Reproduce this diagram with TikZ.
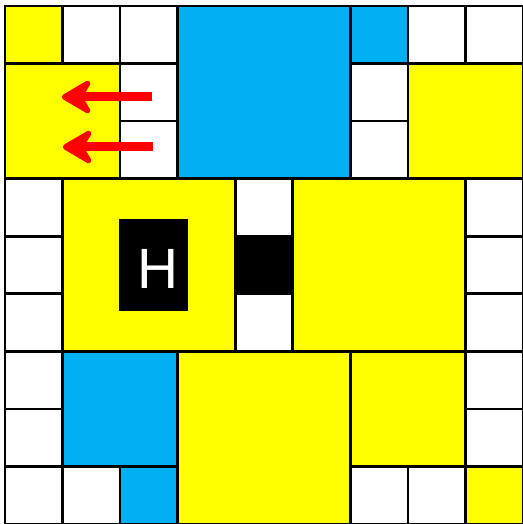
\documentclass[tikz,border=0pt]{standalone}
\usepackage{fontspec}
\setmainfont{Liberation Sans}
\definecolor{cyel}{HTML}{FFFF00}
\definecolor{cblu}{HTML}{00B0F0}
\definecolor{cred}{HTML}{FF0000}
\tikzset{
  cellbox/.style={draw=black, line width=2.6bp},
  redshaft/.style={draw=cred, line width=9bp},
  redhead/.style={draw=cred, fill=cred, line width=5.5bp, line join=round}
}
\newcommand\mysq[4]{% col,row,size,color
  \filldraw[cellbox, fill=#4] ({5+#1*57.556},{6+#2*57.556}) rectangle ++({#3*57.556},{#3*57.556});}
\begin{document}
\begin{tikzpicture}[x=1bp,y=-1bp]
\useasboundingbox (0,0) rectangle (523,524);
\fill[white] (0,0) rectangle (523,524);
\foreach \c/\r in {1/0,2/0,7/0,8/0,2/1,2/2,6/1,6/2,0/3,0/4,0/5,4/3,4/5,8/3,8/4,8/5,0/6,0/7,0/8,1/8,6/8,7/8,8/6,8/7}
  {\mysq{\c}{\r}{1}{white}}
\foreach \c/\r/\s in {0/0/1,0/1/2,7/1/2,1/3/3,5/3/3,3/6/3,6/6/2,8/8/1}
  {\mysq{\c}{\r}{\s}{cyel}}
\foreach \c/\r/\s in {3/0/3,6/0/1,1/6/2,2/8/1}
  {\mysq{\c}{\r}{\s}{cblu}}
\mysq{4}{4}{1}{black}
\fill[black] (119,219) rectangle (188,311);
\node[text=white, font=\fontsize{57}{57}\selectfont, inner sep=0pt] (hbox) at (158,269) {H};
\foreach \y/\x in {97/62, 147/63} {
  \coordinate (tail) at (\x+90,\y);
  \coordinate (tip) at (\x+2.5,\y);
  \draw[redshaft] (tail) -- ([xshift=15bp]tip);
  \filldraw[redhead] (tip) -- ([xshift=23bp,yshift=-13.5bp]tip) -- ([xshift=15bp]tip) -- ([xshift=23bp,yshift=13.5bp]tip) -- cycle;
}
\end{tikzpicture}
\end{document}
